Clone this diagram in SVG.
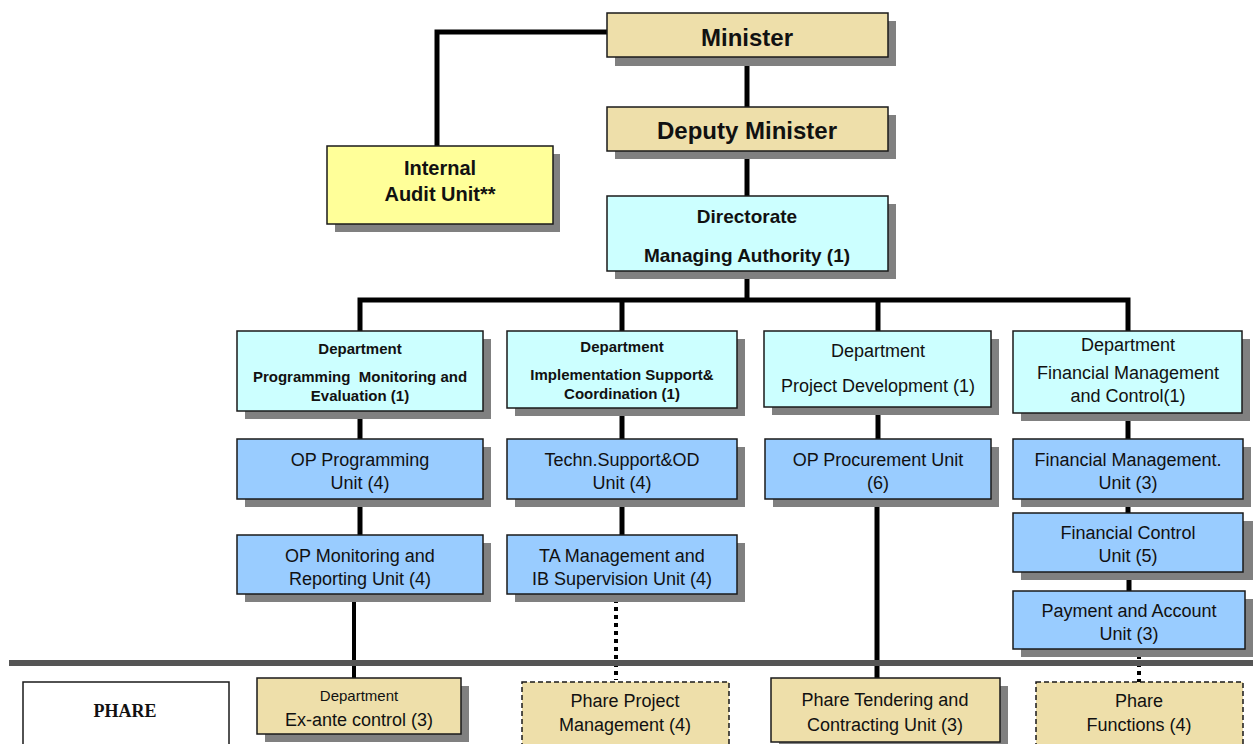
<svg xmlns="http://www.w3.org/2000/svg" width="1253" height="744" viewBox="0 0 1253 744">
<style>
.box{stroke:#1a1a1a;stroke-width:1.5}
.sh{fill:#808080}
.tan{fill:#EEDFAA}
.yel{fill:#FFFF99}
.cyan{fill:#CCFFFF}
.blue{fill:#99CCFF}
.dash{stroke-dasharray:5 3}
text{font-family:"Liberation Sans",Arial,sans-serif;fill:#111;text-anchor:middle}
.big{font-size:24px;font-weight:bold}
.mid{font-size:20px;font-weight:bold}
.dir{font-size:19px;font-weight:bold}
.sm{font-size:15px;font-weight:bold}
.t{font-size:18px}
.t15{font-size:15px}
.ln{stroke:#000;stroke-width:5;fill:none}
.ln4{stroke:#000;stroke-width:4;fill:none}
.dot{stroke:#000;stroke-width:4;fill:none;stroke-dasharray:4 4}
</style>
<rect width="1253" height="744" fill="#fff"/>
<g id="connectors">
<polyline class="ln" points="607,32 437,32 437,146"/>
<line class="ln" x1="747" y1="57" x2="747" y2="107"/>
<line class="ln" x1="747" y1="151" x2="747" y2="196"/>
<line class="ln" x1="747" y1="271" x2="747" y2="300"/>
<polyline class="ln" points="360,331 360,300 1128,300 1128,331"/>
<line class="ln" x1="622" y1="300" x2="622" y2="331"/>
<line class="ln" x1="878" y1="300" x2="878" y2="331"/>
<line class="ln" x1="360" y1="411" x2="360" y2="439"/>
<line class="ln" x1="622" y1="408" x2="622" y2="439"/>
<line class="ln" x1="878" y1="407" x2="878" y2="439"/>
<line class="ln" x1="1128" y1="413" x2="1128" y2="439"/>
<line class="ln" x1="360" y1="499" x2="360" y2="535"/>
<line class="ln" x1="622" y1="499" x2="622" y2="535"/>
<line class="ln" x1="1128" y1="499" x2="1128" y2="513"/>
<line class="ln" x1="1129" y1="572" x2="1129" y2="591"/>
<line class="ln4" x1="354" y1="599" x2="354" y2="680"/>
<line class="dot" x1="616" y1="599" x2="616" y2="680"/>
<line class="ln" x1="877" y1="499" x2="877" y2="680"/>
<line class="dot" x1="1139" y1="655" x2="1139" y2="682"/>
<line x1="9" y1="663" x2="1253" y2="663" stroke="#555" stroke-width="6"/>
</g>
<g id="minister">
<rect class="sh" x="615" y="21" width="281" height="45"/>
<rect class="box tan" x="607" y="13" width="281" height="44"/>
<text class="big" x="747" y="46">Minister</text>
</g>
<g id="deputy">
<rect class="sh" x="615" y="115" width="281" height="44"/>
<rect class="box tan" x="607" y="107" width="281" height="44"/>
<text class="big" x="747" y="139">Deputy Minister</text>
</g>
<g id="audit">
<rect class="sh" x="335" y="154" width="225" height="78"/>
<rect class="box yel" x="327" y="146" width="226" height="78"/>
<text class="mid" x="440" y="175">Internal</text>
<text class="mid" x="440" y="201">Audit Unit**</text>
</g>
<g id="directorate">
<rect class="sh" x="615" y="204" width="281" height="75"/>
<rect class="box cyan" x="607" y="196" width="281" height="75"/>
<text class="dir" x="747" y="223">Directorate</text>
<text class="dir" x="747" y="262">Managing Authority (1)</text>
</g>
<g id="dept1">
<rect class="sh" x="245" y="339" width="246" height="80"/>
<rect class="box cyan" x="237" y="331" width="246" height="80"/>
<text class="sm" x="360" y="354">Department</text>
<text class="sm" x="360" y="382" xml:space="preserve">Programming  Monitoring and</text>
<text class="sm" x="360" y="401">Evaluation (1)</text>
</g>
<g id="dept2">
<rect class="sh" x="515" y="339" width="230" height="77"/>
<rect class="box cyan" x="507" y="331" width="230" height="77"/>
<text class="sm" x="622" y="352">Department</text>
<text class="sm" x="622" y="380">Implementation Support&amp;</text>
<text class="sm" x="622" y="399">Coordination (1)</text>
</g>
<g id="dept3">
<rect class="sh" x="772" y="339" width="227" height="76"/>
<rect class="box cyan" x="764" y="331" width="227" height="76"/>
<text class="t" x="878" y="357">Department</text>
<text class="t" x="878" y="392">Project Development (1)</text>
</g>
<g id="dept4">
<rect class="sh" x="1021" y="339" width="229" height="82"/>
<rect class="box cyan" x="1013" y="331" width="229" height="82"/>
<text class="t" x="1128" y="351">Department</text>
<text class="t" x="1128" y="379">Financial Management</text>
<text class="t" x="1128" y="402">and Control(1)</text>
</g>
<g id="opprog">
<rect class="sh" x="245" y="447" width="246" height="60"/>
<rect class="box blue" x="237" y="439" width="246" height="60"/>
<text class="t" x="360" y="466">OP Programming</text>
<text class="t" x="360" y="489">Unit (4)</text>
</g>
<g id="techn">
<rect class="sh" x="515" y="447" width="230" height="60"/>
<rect class="box blue" x="507" y="439" width="230" height="60"/>
<text class="t" x="622" y="466">Techn.Support&amp;OD</text>
<text class="t" x="622" y="489">Unit (4)</text>
</g>
<g id="opproc">
<rect class="sh" x="773" y="447" width="226" height="60"/>
<rect class="box blue" x="765" y="439" width="226" height="60"/>
<text class="t" x="878" y="466">OP Procurement Unit</text>
<text class="t" x="878" y="489">(6)</text>
</g>
<g id="finmgmt">
<rect class="sh" x="1021" y="447" width="230" height="60"/>
<rect class="box blue" x="1013" y="439" width="230" height="60"/>
<text class="t" x="1128" y="466">Financial Management.</text>
<text class="t" x="1128" y="489">Unit (3)</text>
</g>
<g id="opmon">
<rect class="sh" x="245" y="543" width="246" height="59"/>
<rect class="box blue" x="237" y="535" width="246" height="59"/>
<text class="t" x="360" y="562">OP Monitoring and</text>
<text class="t" x="360" y="585">Reporting Unit (4)</text>
</g>
<g id="tamgmt">
<rect class="sh" x="515" y="543" width="230" height="59"/>
<rect class="box blue" x="507" y="535" width="230" height="59"/>
<text class="t" x="622" y="562">TA Management and</text>
<text class="t" x="622" y="585">IB Supervision Unit (4)</text>
</g>
<g id="fincontrol">
<rect class="sh" x="1021" y="521" width="232" height="59"/>
<rect class="box blue" x="1013" y="513" width="230" height="59"/>
<text class="t" x="1128" y="539">Financial Control</text>
<text class="t" x="1128" y="562">Unit (5)</text>
</g>
<g id="payment">
<rect class="sh" x="1021" y="599" width="232" height="58"/>
<rect class="box blue" x="1013" y="591" width="232" height="58"/>
<text class="t" x="1129" y="617">Payment and Account</text>
<text class="t" x="1129" y="640">Unit (3)</text>
</g>
<g id="phare">
<rect x="23" y="682" width="206" height="70" fill="#fff" stroke="#1a1a1a" stroke-width="1.5"/>
<text x="125" y="717" style="font-family:'Liberation Serif','Times New Roman',serif;font-size:18px;font-weight:bold">PHARE</text>
</g>
<g id="exante">
<rect class="sh" x="265" y="686" width="204" height="56"/>
<rect class="box tan" x="257" y="678" width="204" height="56"/>
<text class="t15" x="359" y="701">Department</text>
<text class="t" x="359" y="726">Ex-ante control (3)</text>
</g>
<g id="pharepm">
<rect class="box tan dash" x="522" y="682" width="207" height="70"/>
<text class="t" x="625" y="707">Phare Project</text>
<text class="t" x="625" y="731">Management (4)</text>
</g>
<g id="pharetend">
<rect class="sh" x="779" y="686" width="229" height="64"/>
<rect class="box tan" x="771" y="678" width="229" height="64"/>
<text class="t" x="885" y="706">Phare Tendering and</text>
<text class="t" x="885" y="731">Contracting Unit (3)</text>
</g>
<g id="pharefn">
<rect class="box tan dash" x="1036" y="682" width="207" height="70"/>
<text class="t" x="1139" y="707">Phare</text>
<text class="t" x="1139" y="731">Functions (4)</text>
</g>
</svg>
